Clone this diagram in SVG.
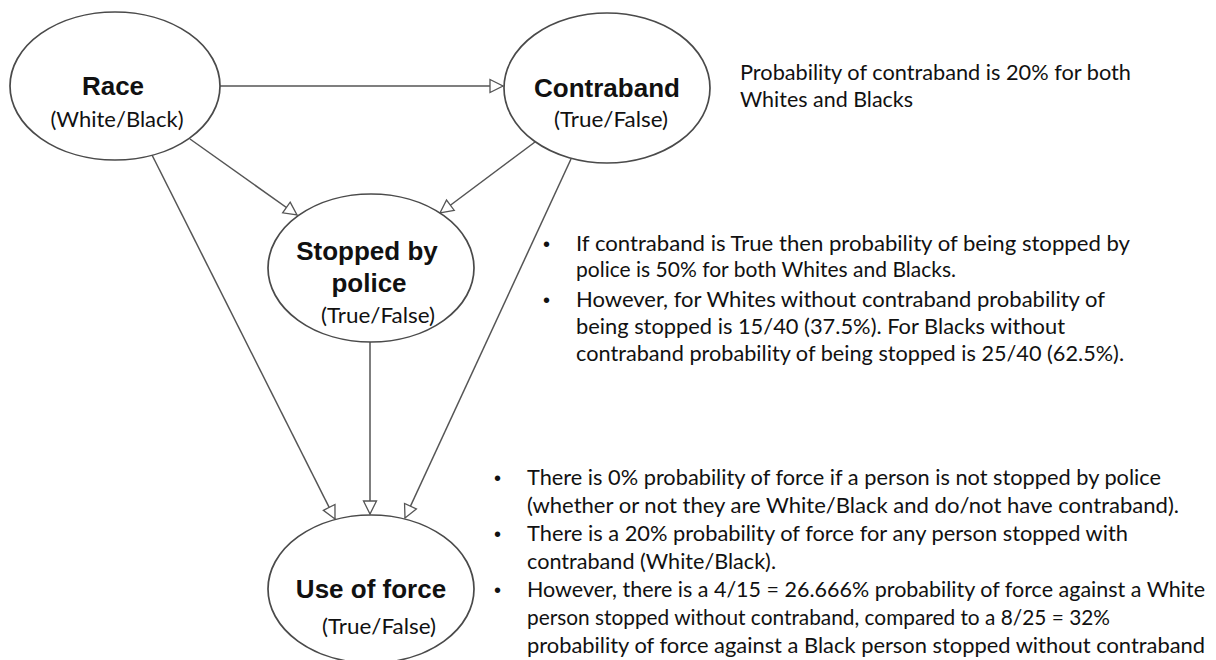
<svg xmlns="http://www.w3.org/2000/svg" width="1216" height="660" viewBox="0 0 1216 660">
<style>
.node ellipse{fill:#fff;stroke:#4a4a4a;stroke-width:1.7}
.title{font-family:"Liberation Sans",Arial,sans-serif;font-weight:bold;font-size:26px;fill:#111;text-anchor:middle}
.sub{font-family:Lato,"Open Sans",sans-serif;font-size:21px;fill:#111;text-anchor:middle}
.edge{stroke:#555;stroke-width:1.5;fill:none;marker-end:url(#arr)}
.note{font-family:Lato,"Open Sans",sans-serif;font-size:21px;fill:#111}
.bul{font-family:"Liberation Sans",Arial,sans-serif;font-size:20px;fill:#111}
</style>
<defs>
<marker id="arr" markerUnits="userSpaceOnUse" markerWidth="16" markerHeight="15" refX="14" refY="6.5" orient="auto" overflow="visible">
<path d="M1,0 L14,6.5 L1,13 z" fill="#fff" stroke="#555" stroke-width="1.3"/>
</marker>
</defs>
<rect width="1216" height="660" fill="#fff"/>
<g id="connectors">
<line class="edge" x1="219" y1="86" x2="503" y2="86"/>
<line class="edge" x1="190" y1="139" x2="297" y2="215"/>
<line class="edge" x1="535" y1="142" x2="440" y2="213"/>
<line class="edge" x1="151" y1="153" x2="335" y2="519"/>
<line class="edge" x1="571" y1="159" x2="405" y2="518"/>
<line class="edge" x1="370" y1="342" x2="370" y2="514"/>
</g>
<g id="race" class="node">
<ellipse cx="115" cy="86" rx="105" ry="74"/>
<text class="title" x="113" y="95">Race</text>
<text class="sub" x="117" y="127" textLength="133" lengthAdjust="spacingAndGlyphs">(White/Black)</text>
</g>
<g id="contraband" class="node">
<ellipse cx="607" cy="88" rx="103" ry="75"/>
<text class="title" x="607" y="97">Contraband</text>
<text class="sub" x="611" y="127" textLength="114" lengthAdjust="spacingAndGlyphs">(True/False)</text>
</g>
<g id="stopped" class="node">
<ellipse cx="371" cy="268" rx="103" ry="74"/>
<text class="title" x="367" y="260">Stopped by</text>
<text class="title" x="369" y="292">police</text>
<text class="sub" x="378" y="323" textLength="114" lengthAdjust="spacingAndGlyphs">(True/False)</text>
</g>
<g id="force" class="node">
<ellipse cx="371" cy="589" rx="103" ry="74"/>
<text class="title" x="371" y="598">Use of force</text>
<text class="sub" x="379" y="634" textLength="114" lengthAdjust="spacingAndGlyphs">(True/False)</text>
</g>
<g id="note-contraband">
<text class="note" x="740" y="80" textLength="391" lengthAdjust="spacingAndGlyphs">Probability of contraband is 20% for both</text>
<text class="note" x="740" y="107" textLength="173" lengthAdjust="spacingAndGlyphs">Whites and Blacks</text>
</g>
<g id="note-stopped">
<text class="bul" x="543" y="251">•</text>
<text class="note" x="576" y="251" textLength="554" lengthAdjust="spacingAndGlyphs">If contraband is True then probability of being stopped by</text>
<text class="note" x="576" y="277" textLength="380" lengthAdjust="spacingAndGlyphs">police is 50% for both Whites and Blacks.</text>
<text class="bul" x="543" y="307">•</text>
<text class="note" x="576" y="307" textLength="529" lengthAdjust="spacingAndGlyphs">However, for Whites without contraband probability of</text>
<text class="note" x="576" y="334" textLength="489" lengthAdjust="spacingAndGlyphs">being stopped is 15/40 (37.5%). For Blacks without</text>
<text class="note" x="576" y="361" textLength="548" lengthAdjust="spacingAndGlyphs">contraband probability of being stopped is 25/40 (62.5%).</text>
</g>
<g id="note-force">
<text class="bul" x="494" y="485">•</text>
<text class="note" x="527" y="485" textLength="634" lengthAdjust="spacingAndGlyphs">There is 0% probability of force if a person is not stopped by police</text>
<text class="note" x="527" y="513" textLength="652" lengthAdjust="spacingAndGlyphs">(whether or not they are White/Black and do/not have contraband).</text>
<text class="bul" x="494" y="541">•</text>
<text class="note" x="527" y="541" textLength="601" lengthAdjust="spacingAndGlyphs">There is a 20% probability of force for any person stopped with</text>
<text class="note" x="527" y="569" textLength="249" lengthAdjust="spacingAndGlyphs">contraband (White/Black).</text>
<text class="bul" x="494" y="597">•</text>
<text class="note" x="527" y="597" textLength="678" lengthAdjust="spacingAndGlyphs">However, there is a 4/15 = 26.666% probability of force against a White</text>
<text class="note" x="527" y="625" textLength="583" lengthAdjust="spacingAndGlyphs">person stopped without contraband, compared to a 8/25 = 32%</text>
<text class="note" x="527" y="653" textLength="678" lengthAdjust="spacingAndGlyphs">probability of force against a Black person stopped without contraband</text>
</g>
</svg>
